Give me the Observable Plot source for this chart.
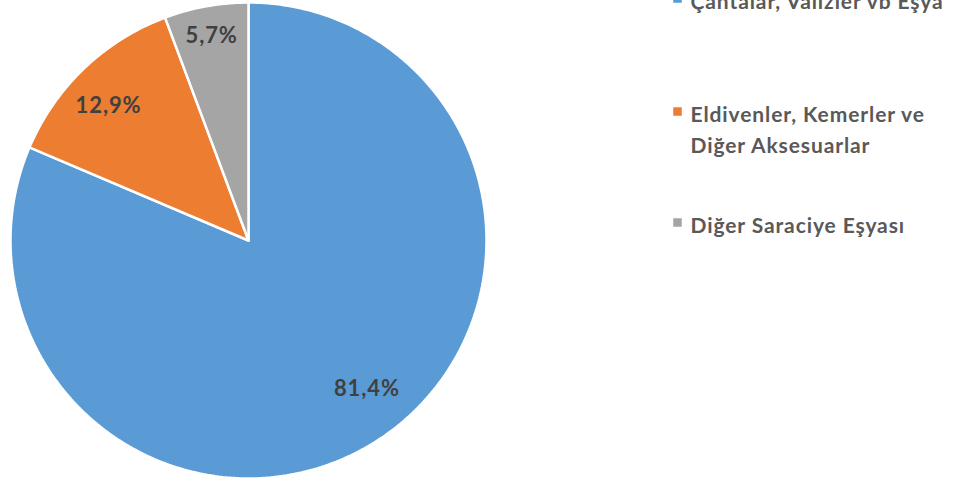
<!DOCTYPE html>
<html><head><meta charset="utf-8">
<script src="https://cdn.jsdelivr.net/npm/d3@7"></script>
<script src="https://cdn.jsdelivr.net/npm/@observablehq/plot@0.6"></script>
<style>body{margin:0;background:#fff}</style>
</head><body><div id="chart"></div>
<script>
const categories = ["Çantalar, Valizler vb Eşya", "Eldivenler, Kemerler ve\nDiğer Aksesuarlar", "Diğer Saraciye Eşyası"];
const values = [81.4, 12.9, 5.7];
const labels = ["81,4%", "12,9%", "5,7%"];
const colors = ["#5B9BD5", "#ED7D31", "#A5A5A5"];

// layout
const W = 964, H = 484;
const cx = 248, cy = 240, R = 238;
const labelNudge = [[0.78, 16, -6], [0.82, -5, 6], [0.87, 0, -1]]; // radius fraction, dx, dy
const legY = [-2, 111, 222];

const pie = d3.pie().sort(null).value(d => d)(values);
const poly = [];
pie.forEach((p, i) => {
  poly.push({i, a: 0, r: 0});
  const n = Math.max(8, Math.ceil((p.endAngle - p.startAngle) * 60));
  for (let k = 0; k <= n; k++) {
    const a = p.startAngle + (p.endAngle - p.startAngle) * k / n;
    poly.push({i, a, r: R});
  }
  poly.push({i, a: 0, r: 0});
});
const px = d => cx + d.r * Math.sin(d.a) + (d.dx || 0);
const py = d => cy - d.r * Math.cos(d.a) + (d.dy || 0);
const lab = pie.map((p, i) => ({i, a: (p.startAngle + p.endAngle) / 2, r: R * labelNudge[i][0], dx: labelNudge[i][1], dy: labelNudge[i][2], t: labels[i]}));
const leg = categories.map((c, i) => ({i, c, y: legY[i]}));

const chart = Plot.plot({
  width: W, height: H, margin: 0,
  x: {type: "linear", domain: [0, W], range: [0, W], axis: null},
  y: {type: "linear", domain: [0, H], range: [0, H], axis: null},
  style: {fontFamily: "Lato, sans-serif", letterSpacing: "0.9px"},
  marks: [
    Plot.line(poly, {x: px, y: py, z: "i", fill: d => colors[d.i], stroke: "white", strokeWidth: 2.5, strokeLinejoin: "miter"}),
    Plot.text(lab, {x: px, y: py, text: "t", fill: "#404040", fontSize: 22, fontWeight: 700}),
    Plot.dot(leg, {x: 677, y: "y", symbol: "square", r: 4.8, fill: d => colors[d.i], stroke: null}),
    Plot.text(leg, {x: 690, y: "y", text: "c", textAnchor: "start", lineAnchor: "top", dy: -11, lineHeight: 1.45, fill: "#595959", fontSize: 21, fontWeight: 700})
  ]
});
document.getElementById("chart").appendChild(chart);
</script></body></html>
